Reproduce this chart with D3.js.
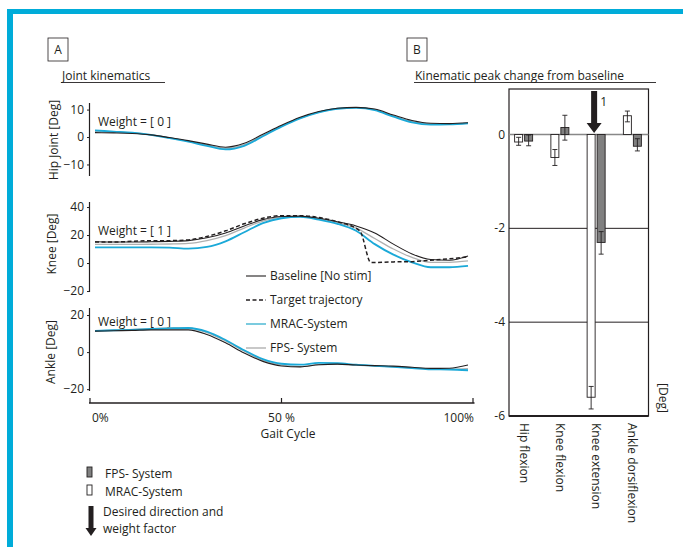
<!DOCTYPE html>
<html>
<head>
<meta charset="utf-8">
<script src="https://cdn.jsdelivr.net/npm/d3@7"></script>
<style>
  body { margin: 0; background: #fff; }
  svg { display: block; font-family: "Open Sans", sans-serif; }
  text { fill: #231f20; }
</style>
</head>
<body>
<div id="chart"></div>
<script>
// Gait cycle samples (%)
const gait = [0, 5, 10, 15, 20, 25, 30, 35, 40, 45, 50, 55, 60, 65, 70, 75, 80, 85, 90, 95, 100];

// Hip joint [Deg]
const hipBaseline = [1.6, 1.5, 1.3, 0.8, -0.2, -1.3, -2.6, -3.7, -2.3, 1.0, 4.3, 7.2, 9.3, 10.5, 10.8, 10.2, 8.0, 6.0, 5.0, 4.9, 5.2];
const hipMrac = [2.4, 2.0, 1.6, 0.8, -0.4, -1.7, -3.2, -4.5, -3.2, 0.3, 3.8, 6.8, 9.0, 10.3, 10.6, 9.8, 7.4, 5.3, 4.5, 4.6, 5.0];
const hipFps = [2.0, 1.8, 1.5, 0.8, -0.3, -1.5, -2.9, -4.1, -2.8, 0.6, 4.0, 7.0, 9.1, 10.4, 10.7, 10.0, 7.7, 5.6, 4.7, 4.7, 5.1];

// Knee [Deg]
const kneeBaseline = [15.2, 15.0, 15.0, 15.2, 15.5, 16.0, 18.0, 21.5, 26.5, 31.0, 33.2, 33.5, 32.0, 29.5, 26.5, 21.5, 13.5, 6.5, 2.5, 2.0, 5.0];
const kneeMrac = [11.2, 11.2, 11.2, 11.2, 11.0, 10.3, 11.5, 15.5, 22.0, 28.5, 32.0, 33.0, 31.0, 28.0, 23.0, 13.5, 6.0, 0.5, -3.0, -3.0, -2.0];
const kneeFps = [13.3, 13.3, 13.3, 13.4, 13.6, 14.0, 16.0, 19.5, 25.0, 30.0, 32.8, 33.3, 31.8, 28.8, 25.0, 17.5, 10.0, 4.0, 0.5, 0.5, 1.5];
const targetGait = [0, 5, 10, 15, 20, 25, 30, 35, 40, 45, 50, 55, 60, 65, 71, 74, 80, 85, 90, 95, 100];
const kneeTarget = [15.0, 15.0, 15.5, 16.0, 16.0, 16.5, 19.0, 23.0, 28.0, 32.0, 33.8, 33.8, 32.5, 29.5, 23.0, 0.3, 0.8, 1.0, 2.0, 3.0, 4.5];

// Ankle [Deg]
const ankleBaseline = [11.3, 11.5, 11.7, 12.0, 12.0, 12.0, 9.5, 5.0, -0.5, -5.0, -7.5, -8.0, -6.8, -6.5, -7.0, -7.3, -7.6, -8.2, -8.8, -8.7, -7.0];
const ankleMrac = [11.5, 11.8, 12.0, 12.5, 12.8, 13.0, 11.0, 6.5, 1.0, -3.8, -6.3, -6.8, -5.8, -6.0, -6.8, -7.4, -8.0, -8.6, -9.3, -9.4, -9.8];
const ankleFps = [11.5, 11.8, 12.2, 12.6, 13.0, 13.0, 10.5, 6.0, 0.5, -4.5, -7.0, -7.8, -6.8, -6.5, -7.0, -7.5, -8.0, -8.5, -9.0, -9.3, -9.0];

const hipTicks = [10, 0, -10];
const kneeTicks = [40, 20, 0, -20];
const ankleTicks = [20, 0, -20];
const gaitTicks = [0, 50, 100];
const gaitTickLabels = ['0%', '50 %', '100%'];

// Panel B: kinematic peak change from baseline [Deg]
const peakCategories = ['Hip flexion', 'Knee flexion', 'Knee extension', 'Ankle dorsiflexion'];
const mracPeak = [-0.16, -0.49, -5.6, 0.40];
const mracErrLow = [-0.23, -0.66, -5.85, 0.27];
const mracErrHigh = [-0.06, -0.32, -5.37, 0.50];
const fpsPeak = [-0.14, 0.15, -2.3, -0.25];
const fpsErrLow = [-0.24, -0.12, -2.55, -0.35];
const fpsErrHigh = [-0.01, 0.41, -2.07, -0.09];
const peakTicks = [0, -2, -4, -6];

const W = 683, H = 547;
const blue = '#1ba9d8';
const svg = d3.select('#chart').append('svg').attr('width', W).attr('height', H);

// frame
svg.append('rect').attr('x', 7).attr('y', 9).attr('width', W - 7).attr('height', 5).attr('fill', '#00acd9');
svg.append('rect').attr('x', 7).attr('y', 9).attr('width', 6).attr('height', H - 9).attr('fill', '#00acd9');

// panel headers
function header(x, letter, title, tx, ux2) {
    svg.append('rect').attr('x', x).attr('y', 38).attr('width', 20).attr('height', 23)
        .attr('fill', 'none').attr('stroke', '#231f20').attr('stroke-width', 0.8);
    svg.append('text').attr('x', x + 10).attr('y', 54).attr('text-anchor', 'middle')
        .style('font-size', '12px').text(letter);
    svg.append('text').attr('x', tx).attr('y', 80).style('font-size', '12px').text(title);
    svg.append('line').attr('x1', tx - 1).attr('x2', ux2).attr('y1', 82.5).attr('y2', 82.5)
        .attr('stroke', '#231f20').attr('stroke-width', 0.9);
}
header(48, 'A', 'Joint kinematics', 62, 165);
header(407, 'B', 'Kinematic peak change from baseline', 415, 656);

// ---- Panel A ----
const x = d3.scaleLinear().domain([0, 100]).range([95, 468]);
const xAxisScale = d3.scaleLinear().domain([0, 100]).range([90, 473]);

function jointPanel(opts) {
    const y = d3.scaleLinear().domain(opts.domain).range(opts.range);
    const g = svg.append('g');
    g.append('g').attr('transform', 'translate(90,0)')
        .call(d3.axisLeft(y).tickValues(opts.ticks).tickSize(3).tickPadding(3))
        .call(a => {
            a.select('.domain').attr('d', `M-0.5,${opts.range[0]}V${opts.range[1]}`).attr('stroke', '#231f20').attr('stroke-width', 1.2);
            a.selectAll('text').style('font-size', '12px').attr('fill', '#231f20').style('font-family', '"Open Sans", sans-serif');
            a.selectAll('.tick line').attr('stroke', '#231f20');
        });
    const mid = (opts.range[0] + opts.range[1]) / 2;
    g.append('text').attr('transform', `translate(${opts.labelX},${opts.labelY || mid}) rotate(-90)`)
        .attr('text-anchor', 'middle').style('font-size', '12px').text(opts.label);
    g.append('text').attr('x', 98).attr('y', opts.weightY).style('font-size', '12px').text(opts.weight);

    const line = d3.line().x(d => x(d[0])).y(d => y(d[1])).curve(d3.curveMonotoneX);
    const series = [
        { v: opts.fps, xs: gait, color: '#b0b0b0', w: 1.3 },
        { v: opts.mrac, xs: gait, color: blue, w: 1.8 },
        { v: opts.base, xs: gait, color: '#231f20', w: 1.1 }
    ];
    if (opts.target) series.push({ v: opts.target, xs: targetGait, color: '#231f20', w: 1.5, dash: '4,2.5' });
    series.forEach(s => {
        g.append('path').datum(s.xs.map((gx, i) => [gx, s.v[i]]))
            .attr('d', line).attr('fill', 'none').attr('stroke', s.color)
            .attr('stroke-width', s.w).attr('stroke-dasharray', s.dash || null);
    });
}

jointPanel({ domain: [-14.2, 12.4], range: [176, 103], ticks: hipTicks, label: 'Hip Joint  [Deg]', labelX: 58, labelY: 140,
    weight: 'Weight = [ 0 ]', weightY: 126, base: hipBaseline, mrac: hipMrac, fps: hipFps });
jointPanel({ domain: [-20.7, 43.6], range: [292, 202], ticks: kneeTicks, label: 'Knee [Deg]', labelX: 56, labelY: 244,
    weight: 'Weight = [ 1 ]', weightY: 235, base: kneeBaseline, mrac: kneeMrac, fps: kneeFps, target: kneeTarget });
jointPanel({ domain: [-21, 23.8], range: [391, 308], ticks: ankleTicks, label: 'Ankle [Deg]', labelX: 55, labelY: 352,
    weight: 'Weight = [ 0 ]', weightY: 326, base: ankleBaseline, mrac: ankleMrac, fps: ankleFps });

// gait axis
const gx = svg.append('g').attr('transform', 'translate(0,403)');
gx.append('line').attr('x1', 89).attr('x2', 474.5).attr('stroke', '#231f20').attr('stroke-width', 1.5);
gx.selectAll('.gt').data(gaitTicks).join('line').attr('class', 'gt')
    .attr('x1', d => xAxisScale(d)).attr('x2', d => xAxisScale(d)).attr('y1', -5).attr('y2', 0)
    .attr('stroke', '#231f20').attr('stroke-width', 1.2);
gx.selectAll('.gl').data(gaitTicks).join('text').attr('class', 'gl')
    .attr('x', (d, i) => xAxisScale(d) + (i === 0 ? 2 : i === 2 ? 1 : 0))
    .attr('y', 19).attr('text-anchor', (d, i) => ['start', 'middle', 'end'][i])
    .style('font-size', '12px').text((d, i) => gaitTickLabels[i]);
svg.append('text').attr('x', 288).attr('y', 438).attr('text-anchor', 'middle').style('font-size', '12px').text('Gait Cycle');

// line legend
const lineLegend = [
    { label: 'Baseline [No stim]', color: '#231f20', w: 1.1, y: 276 },
    { label: 'Target trajectory', color: '#231f20', w: 1.6, y: 300, dash: '4,2.5' },
    { label: 'MRAC-System', color: '#6cc6dc', w: 1.8, y: 324 },
    { label: 'FPS- System', color: '#aaaaaa', w: 1.3, y: 348 }
];
lineLegend.forEach(d => {
    svg.append('line').attr('x1', 246).attr('x2', 266).attr('y1', d.y).attr('y2', d.y)
        .attr('stroke', d.color).attr('stroke-width', d.w).attr('stroke-dasharray', d.dash || null);
    svg.append('text').attr('x', 270).attr('y', d.y + 4).style('font-size', '12px').text(d.label);
});

// ---- Panel B ----
const by = d3.scaleLinear().domain([-6, 0.97]).range([416, 89]);
const bx = d3.scaleBand().domain(peakCategories).range([505.5, 650.5]);
const boxL = 509, boxR = 648.5;

const gb = svg.append('g');
gb.append('rect').attr('x', boxL).attr('y', by(0.97)).attr('width', boxR - boxL).attr('height', by(-6) - by(0.97))
    .attr('fill', 'none').attr('stroke', '#231f20').attr('stroke-width', 1.2);
gb.selectAll('.grid').data(peakTicks.filter(t => t !== 0 && t !== -6)).join('line').attr('class', 'grid')
    .attr('x1', boxL).attr('x2', boxR).attr('y1', d => by(d)).attr('y2', d => by(d))
    .attr('stroke', '#231f20').attr('stroke-width', 1);
gb.append('line').attr('x1', boxL).attr('x2', boxR).attr('y1', by(0)).attr('y2', by(0))
    .attr('stroke', '#888').attr('stroke-width', 1.6);
gb.append('line').attr('x1', boxL).attr('x2', boxR).attr('y1', by(-6)).attr('y2', by(-6))
    .attr('stroke', '#231f20').attr('stroke-width', 1.8);
gb.selectAll('.bt').data(peakTicks).join('text').attr('class', 'bt')
    .attr('x', 505).attr('y', d => by(d) + 4).attr('text-anchor', 'end')
    .style('font-size', '12px').text(d => d);

const barW = 8;
function bars(vals, lo, hi, offset, fill) {
    peakCategories.forEach((c, i) => {
        const cx = bx(c) + bx.bandwidth() / 2 + offset;
        const y0 = by(0), y1 = by(vals[i]);
        gb.append('rect').attr('x', cx - barW / 2).attr('y', Math.min(y0, y1)).attr('width', barW)
            .attr('height', Math.abs(y1 - y0)).attr('fill', fill).attr('stroke', '#231f20').attr('stroke-width', 0.9);
        gb.append('line').attr('x1', cx).attr('x2', cx).attr('y1', by(lo[i])).attr('y2', by(hi[i]))
            .attr('stroke', '#231f20').attr('stroke-width', 0.9);
        [lo[i], hi[i]].forEach(v => gb.append('line').attr('x1', cx - 2.5).attr('x2', cx + 2.5)
            .attr('y1', by(v)).attr('y2', by(v)).attr('stroke', '#231f20').attr('stroke-width', 0.9));
    });
}
bars(mracPeak, mracErrLow, mracErrHigh, -5, '#fff');
bars(fpsPeak, fpsErrLow, fpsErrHigh, 5, '#808080');

// category labels (rotated)
gb.selectAll('.cl').data(peakCategories).join('text').attr('class', 'cl')
    .attr('transform', d => `translate(${bx(d) + bx.bandwidth() / 2 - 4},423) rotate(90)`)
    .style('font-size', '12px').text(d => d);
gb.append('text').attr('transform', 'translate(659,398) rotate(90)').attr('text-anchor', 'middle')
    .style('font-size', '12px').text('[Deg]');

// arrows
function arrow(cx, y0, y1, shaft, head, headH) {
    svg.append('path')
        .attr('d', `M${cx - shaft / 2},${y0}H${cx + shaft / 2}V${y1 - headH}H${cx + head / 2}L${cx},${y1}L${cx - head / 2},${y1 - headH}H${cx - shaft / 2}Z`)
        .attr('fill', '#231f20');
}
const kneeExtCx = bx('Knee extension') + bx.bandwidth() / 2 - 2;
arrow(kneeExtCx, 91, 133, 6, 15, 10);
svg.append('text').attr('x', kneeExtCx + 6).attr('y', 106).style('font-size', '12px').text('1');

// bar legend
svg.append('rect').attr('x', 87).attr('y', 467).attr('width', 5).attr('height', 10).attr('fill', '#808080').attr('stroke', '#231f20').attr('stroke-width', 0.9);
svg.append('text').attr('x', 105).attr('y', 478).style('font-size', '12px').text('FPS- System');
svg.append('rect').attr('x', 87).attr('y', 485).attr('width', 5).attr('height', 10).attr('fill', '#fff').attr('stroke', '#231f20').attr('stroke-width', 0.9);
svg.append('text').attr('x', 105).attr('y', 496).style('font-size', '12px').text('MRAC-System');
arrow(91, 506, 536, 5, 11, 8);
svg.append('text').attr('x', 103).attr('y', 516).style('font-size', '12px').text('Desired direction and');
svg.append('text').attr('x', 103).attr('y', 533).style('font-size', '12px').text('weight factor');
</script>
</body>
</html>
